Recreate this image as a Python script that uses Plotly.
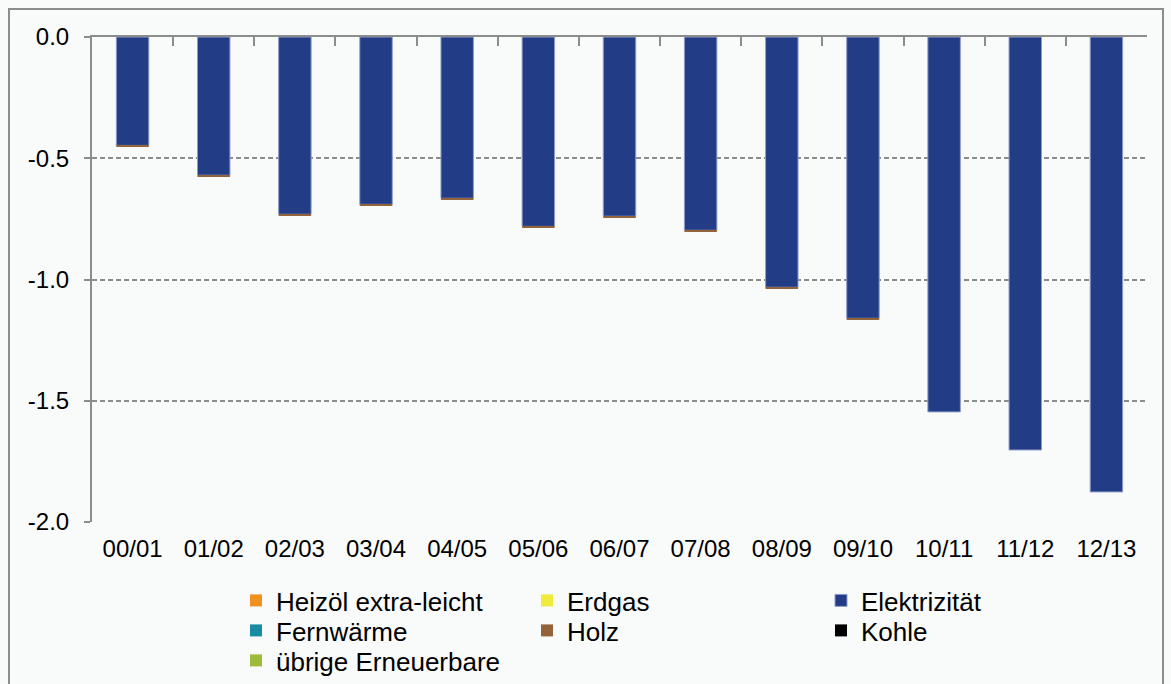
import plotly.graph_objects as go

categories = ["00/01", "01/02", "02/03", "03/04", "04/05", "05/06", "06/07",
              "07/08", "08/09", "09/10", "10/11", "11/12", "12/13"]

heizoel = [0.0] * 13
erdgas = [0.0] * 13
elektrizitaet = [-0.447, -0.570, -0.731, -0.690, -0.665, -0.781, -0.739,
                 -0.797, -1.032, -1.160, -1.546, -1.703, -1.876]
fernwaerme = [0.0] * 13
holz = [-0.007, -0.007, -0.007, -0.007, -0.007, -0.007, -0.007,
        -0.007, -0.007, -0.007, 0.0, 0.0, 0.0]
kohle = [0.0] * 13
uebrige = [0.0] * 13

y_ticks = [0.0, -0.5, -1.0, -1.5, -2.0]
y_ticktext = ["0.0", "-0.5", "-1.0", "-1.5", "-2.0"]

FONT = "Liberation Sans, Arial, sans-serif"
BG = "#f9fafa"
AX = "#8c8c8c"
FS = 24
LFS = 26

L, R, T, B = 92, 24, 37, 162
W, H = 1171, 684
pw, ph = W - L - R, H - T - B


def px_x(p):
    return (p - L) / pw


def px_y(p):
    return (H - B - p) / ph


# name, values, colour, outline colour, outline width, legend id, left px, top px
series = [
    ("Heizöl extra-leicht", heizoel, "#f0901e", "#f0901e", 0, "legend", 236, 577),
    ("Erdgas", erdgas, "#f0ea3c", "#f0ea3c", 0, "legend2", 527, 577),
    ("Elektrizität", elektrizitaet, "#223c85", "#8e9dcc", 1, "legend3", 821, 577),
    ("Fernwärme", fernwaerme, "#1a8ca2", "#1a8ca2", 0, "legend4", 236, 607),
    ("Holz", holz, "#93643a", "#93643a", 0, "legend5", 527, 607),
    ("Kohle", kohle, "#000000", "#000000", 0, "legend6", 821, 607),
    ("übrige Erneuerbare", uebrige, "#9dbb3a", "#9dbb3a", 0, "legend7", 236, 637),
]

fig = go.Figure()
legend_layout = {}
for name, vals, col, lcol, lw, lg, lx, ly in series:
    fig.add_trace(go.Bar(
        x=categories, y=vals, name=name, legend=lg,
        marker=dict(color=col, line=dict(color=lcol, width=lw)),
    ))
    legend_layout[lg] = dict(
        x=px_x(lx), y=px_y(ly), xanchor="left", yanchor="top",
        orientation="v", font=dict(family=FONT, size=LFS, color="#000"),
        bgcolor="rgba(0,0,0,0)", itemwidth=30,
    )

# helper trace for the top category axis
fig.add_trace(go.Scatter(x=[None], y=[None], xaxis="x2", yaxis="y",
                         showlegend=False, hoverinfo="skip"))

n = len(categories)

fig.update_layout(
    width=W, height=H,
    margin=dict(l=L, r=R, t=T, b=B, autoexpand=False),
    paper_bgcolor=BG, plot_bgcolor=BG,
    barmode="relative", bargap=0.6,
    font=dict(family=FONT, size=FS, color="#000"),
    xaxis=dict(
        type="category", categoryorder="array", categoryarray=categories,
        showline=False, ticks="", showgrid=False, zeroline=False,
        ticklabelstandoff=10,
        tickfont=dict(family=FONT, size=FS, color="#000"),
    ),
    xaxis2=dict(
        overlaying="x", side="top", anchor="y",
        range=[-0.5, n - 0.5],
        tickvals=[i - 0.5 for i in range(n + 1)],
        showticklabels=False, ticks="inside", ticklen=9, tickwidth=2,
        tickcolor=AX, showline=True, linecolor=AX, linewidth=2,
        showgrid=False, zeroline=False,
    ),
    yaxis=dict(
        range=[-2.0, 0.0], tickvals=y_ticks, ticktext=y_ticktext,
        showline=True, linecolor=AX, linewidth=2,
        ticks="outside", ticklen=6, tickwidth=2, tickcolor=AX,
        ticklabelstandoff=10,
        showgrid=True, gridcolor=AX, gridwidth=1.5, griddash="5px,3px",
        zeroline=False,
        tickfont=dict(family=FONT, size=FS, color="#000"),
    ),
    shapes=[
        dict(type="rect", xref="paper", yref="paper",
             x0=px_x(9), x1=px_x(1163), y0=px_y(720), y1=px_y(9),
             line=dict(color=AX, width=2), fillcolor="rgba(0,0,0,0)",
             layer="below"),
    ],
    showlegend=True,
    **legend_layout,
)

fig.write_html(
    "out.html",
    config={"displayModeBar": False},
    post_script="document.body.style.margin='0';document.body.style.overflow='hidden';",
)
